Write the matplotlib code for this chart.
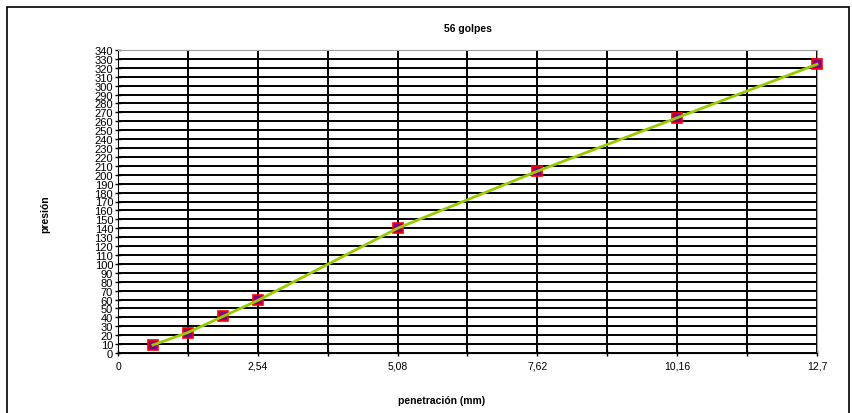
import numpy as np
import matplotlib.pyplot as plt
from matplotlib.patches import Rectangle

penetracion = [0.635, 1.27, 1.905, 2.54, 5.08, 7.62, 10.16, 12.7]
presion = [9, 23, 41, 59, 140, 204, 264, 324]

x_ticks = [0, 2.54, 5.08, 7.62, 10.16, 12.7]
x_labels = ['0', '2,54', '5,08', '7,62', '10,16', '12,7']
x_grid = [1.27 * i for i in range(11)]
y_ticks = list(range(0, 341, 10))

plt.rcParams['font.family'] = ['Liberation Sans', 'DejaVu Sans']

fig = plt.figure(figsize=(8.52, 4.14), dpi=100)
fig.patches.append(Rectangle((7 / 852, -0.05), 842 / 852, 1.05 - 8 / 414,
                             transform=fig.transFigure, fill=False,
                             edgecolor='black', linewidth=1.2))

ax = fig.add_axes([118 / 852, 1 - 354 / 414, 699 / 852, 303 / 414])
ax.set_xlim(0, 12.7)
ax.set_ylim(0, 340)

for g in x_grid:
    ax.axvline(g, color='black', linewidth=1.4, zorder=1)
for g in y_ticks:
    ax.axhline(g, color='black', linewidth=1.4, zorder=1)

ax.plot(penetracion, presion, linestyle='none', marker='s', markersize=7,
        markerfacecolor='#800080', markeredgecolor='#ff0000',
        markeredgewidth=1.2, zorder=3, clip_on=False)
ax.plot(penetracion, presion, color='#99cc00', linewidth=2, zorder=4,
        clip_on=False)

ax.set_xticks(x_ticks)
ax.set_xticklabels(x_labels, fontsize=7.5)
ax.set_xticks(x_grid, minor=True)
ax.set_yticks(y_ticks)
ax.set_yticklabels([str(v) for v in y_ticks], fontsize=8)
ax.tick_params(axis='both', which='both', direction='inout', length=5,
               width=1, color='black')
ax.tick_params(axis='x', pad=3)
ax.tick_params(axis='y', pad=1)

for s in ['top', 'right']:
    ax.spines[s].set_color('#a0a0a0')
for s in ['left', 'bottom']:
    ax.spines[s].set_color('black')

ax.set_title('56 golpes', fontsize=7.5, fontweight='bold', pad=14)
ax.set_xlabel('penetración (mm)', fontsize=7.5, fontweight='bold')
ax.xaxis.set_label_coords(0.463, -0.138)
ax.set_ylabel('presión', fontsize=7.5, fontweight='bold')
ax.yaxis.set_label_coords(-0.097, 0.462)

fig.savefig('out.png', dpi=100)
